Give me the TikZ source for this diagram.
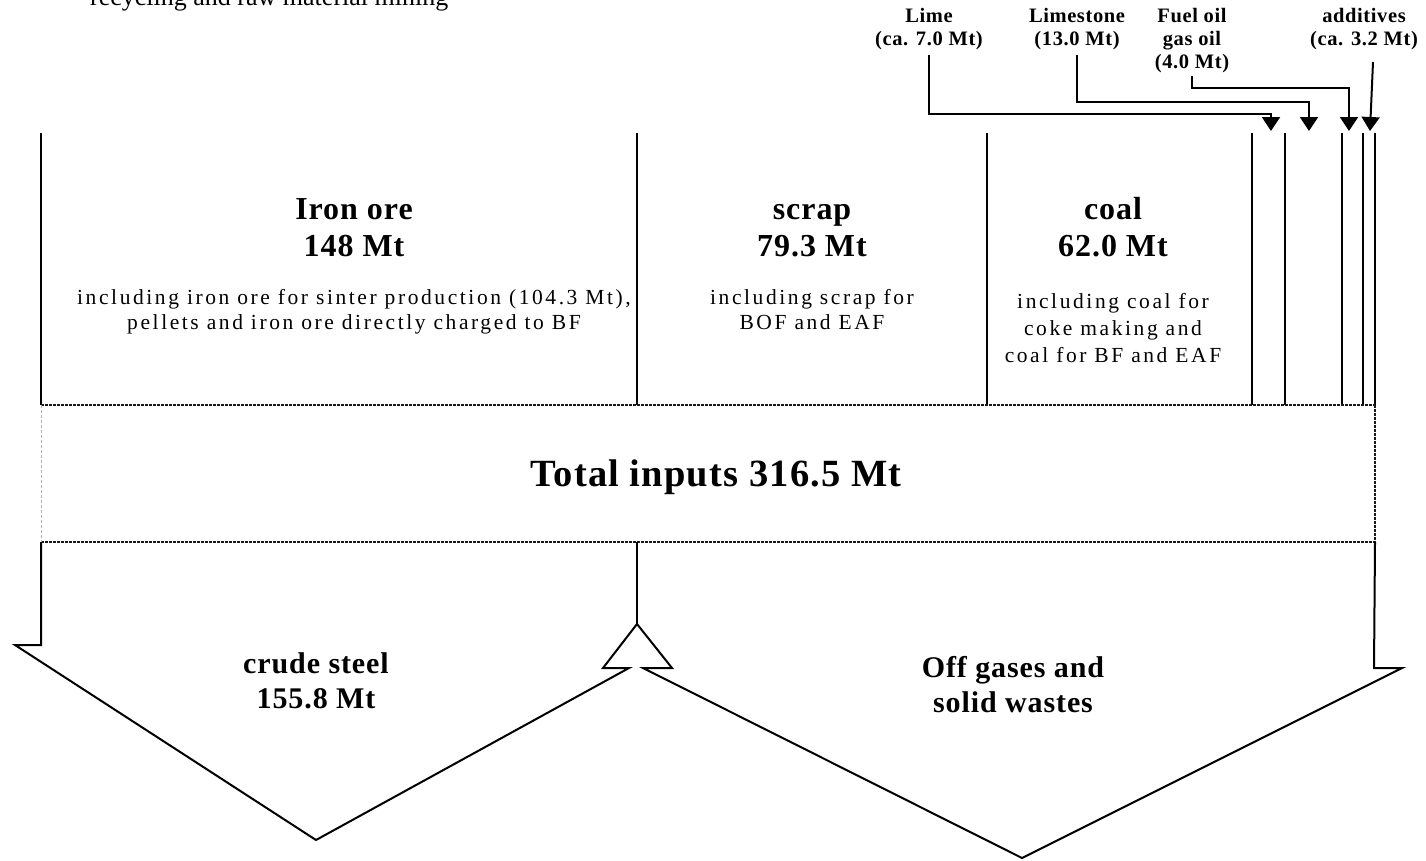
\documentclass[tikz,border=0pt]{standalone}
\usepackage{fontspec}
\setmainfont{Liberation Serif}
\newfontfamily\lsfont[LetterSpace=12]{Liberation Serif}
\newfontfamily\lsfontb[LetterSpace=3]{Liberation Serif}
\usetikzlibrary{arrows.meta}
\begin{document}
\begin{tikzpicture}[x=1pt,y=-1pt,
  ln/.style={line width=2pt},
  dotl/.style={line width=2.2pt, dash pattern=on 2.5pt off 1.5pt, black!90},
  arr/.style={line width=2pt,-{Triangle[length=14pt,width=18pt]}},
  lbl/.style={font=\lsfontb\bfseries\fontsize{20.5}{23}\selectfont, align=center, inner sep=0pt},
  ttl/.style={font=\lsfontb\bfseries\fontsize{32}{37}\selectfont, align=center, inner sep=0pt},
  ttls/.style={font=\lsfontb\bfseries\fontsize{30}{35}\selectfont, align=center, inner sep=0pt},
  body/.style={font=\lsfont\fontsize{21.5}{25}\selectfont, align=center, inner sep=0pt}]
\useasboundingbox (0,0) rectangle (1426,860);

% cut-off text at top
\node[anchor=base west, inner sep=0pt, font=\fontsize{26}{30}\selectfont] (cut) at (90,5) {recycling and raw material mining};

% input labels
\node[lbl, anchor=north] (lime) at (929,6) {\strut Lime\\(ca. 7.0 Mt)};
\node[lbl, anchor=north] (limestone) at (1077,6) {\strut Limestone\\(13.0 Mt)};
\node[lbl, anchor=north] (fuel) at (1192,6) {\strut Fuel oil\\gas oil\\(4.0 Mt)};
\node[lbl, anchor=north] (addit) at (1364,6) {\strut additives\\(ca. 3.2 Mt)};

\coordinate (t1) at (1271,131);
\coordinate (t2) at (1309,131);
\coordinate (t3) at (1349,131);
\coordinate (t4) at (1370,131);
\draw[arr] ([yshift=-5pt]lime.south) -- ([yshift=-5pt]lime.south |- 0,109) -| (t1);
\draw[arr] ([yshift=-5pt]limestone.south) -- ([yshift=-5pt]limestone.south |- 0,97) -| (t2);
\draw[arr] ([yshift=-3pt]fuel.south) -- ([yshift=-3pt]fuel.south |- 0,85) -| (t3);
\draw[arr] (1373,62) -- (t4);

% column lines
\foreach \x in {41,637,987,1252,1285,1342,1363,1375}
  \draw[ln] (\x,133) -- (\x,405);

% total inputs band
\coordinate (bTL) at (41,405);
\coordinate (bTR) at (1375,405);
\coordinate (bBL) at (41,542);
\coordinate (bBR) at (1375,542);
\draw[dotl] (bTL) -- (bTR);
\draw[dotl] (bBL) -- (bBR);
\draw[dotl] (bTR) -- (bBR);
\draw[line width=1pt, black!30, dash pattern=on 3pt off 2pt] (bTL) -- (bBL);
\node[font=\lsfontb\bfseries\fontsize{38.5}{44}\selectfont, inner sep=0pt] (total) at (716,477) {Total inputs 316.5 Mt};

% output arrows
\draw[ln, line join=miter] (bBL) -- (41,645) -- (15,645) -- (316,840) -- (629,668) -- (603,668)
  -- (637,624) -- (672,668) -- (643,668) -- (1022,858) -- (1402,668) -- (1374,668) -- (bBR);
\draw[ln] (637,542) -- (637,624);

% texts
\node[ttl, anchor=north] (iron) at (354,193) {\strut Iron ore\\148 Mt};
\node[body, anchor=north] (ironb) at (354,286.5) {\strut including iron ore for sinter production (104.3 Mt),\\pellets and iron ore directly charged to BF};
\node[ttl, anchor=north] (scrap) at (812,193) {\strut scrap\\79.3 Mt};
\node[body, anchor=north] (scrapb) at (812,286.5) {\strut including scrap for\\BOF and EAF};
\node[ttl, anchor=north] (coal) at (1113,193) {\strut coal\\62.0 Mt};
\node[body, anchor=north, font=\lsfont\fontsize{21.5}{27}\selectfont] (coalb) at (1113,289) {\strut including coal for\\coke making and\\coal for BF and EAF};
\node[ttls, anchor=north] (steel) at (316,648.5) {\strut crude steel\\155.8 Mt};
\node[ttls, anchor=north] (off) at (1013,652.5) {\strut Off gases and\\solid wastes};
\end{tikzpicture}
\end{document}
